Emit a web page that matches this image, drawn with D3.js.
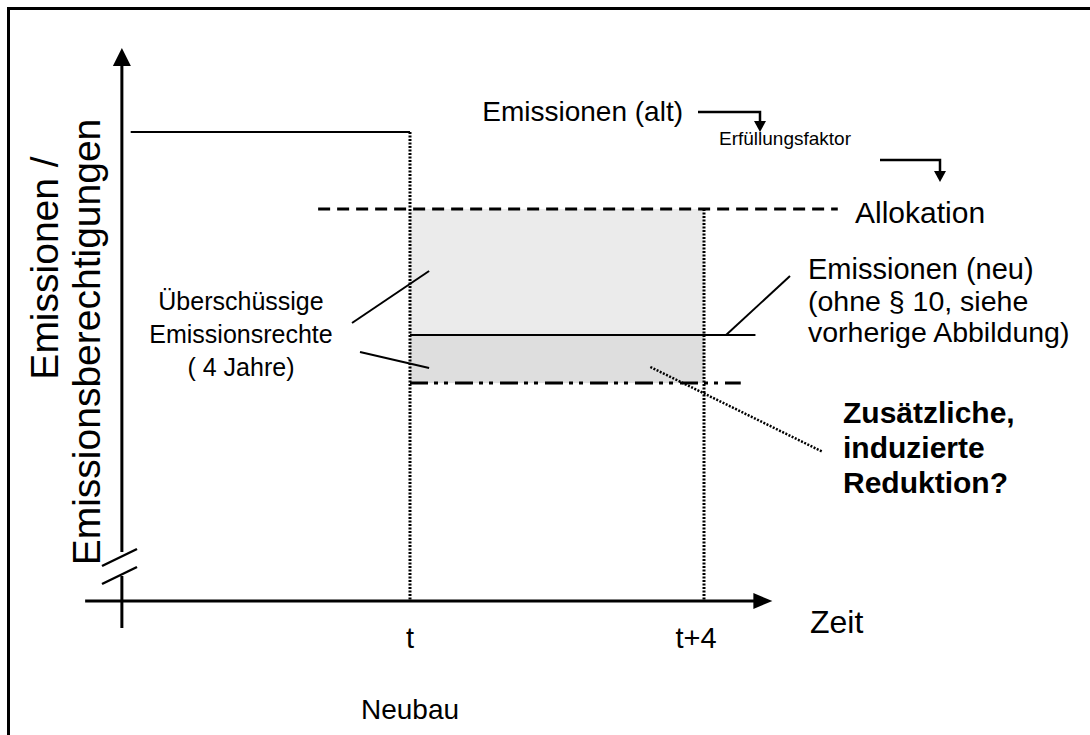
<!DOCTYPE html>
<html>
<head>
<meta charset="utf-8">
<script src="https://cdn.jsdelivr.net/npm/d3@7"></script>
<style>
  body { margin: 0; background: #fff; }
  svg text { font-family: "Liberation Sans", Arial, sans-serif; fill: #000; }
</style>
</head>
<body>
<div id="chart"></div>
<script>
// levels on the (unlabelled) vertical axis, 0 = time axis, 100 = arrow tip
const levelNames = ["Emissionen (alt)", "Allokation", "Emissionen (neu)", "Reduktion"];
const levelValues = [84.8, 70.9, 48.1, 39.4];
// time extent of each level line (years, t = 0)
const levelStart = [-3.8, -1.25, 0, 0];
const levelEnd = [0, 5.82, 4.7, 4.5];

const timeTicks = [0, 4];
const timeLabels = ["t", "t+4"];

const width = 1090;
const height = 735;

const svg = d3.select("#chart")
  .append("svg")
  .attr("width", width)
  .attr("height", height);

const x = d3.scaleLinear().domain([0, 4]).range([410, 704]);
const y = d3.scaleLinear().domain([0, 100]).range([601, 48]);

const axisX0 = -3.92;   // where the vertical axis stands
const level = (name) => levelValues[levelNames.indexOf(name)];

// frame (only top and left visible)
svg.append("path")
  .attr("d", "M8.5,735 V8.5 H1090")
  .attr("fill", "none")
  .attr("stroke", "#000")
  .attr("stroke-width", 3);

// shaded areas
svg.append("rect")
  .attr("x", x(0)).attr("width", x(4) - x(0))
  .attr("y", y(level("Allokation")))
  .attr("height", y(level("Emissionen (neu)")) - y(level("Allokation")))
  .attr("fill", "#ebebeb");
svg.append("rect")
  .attr("x", x(0)).attr("width", x(4) - x(0))
  .attr("y", y(level("Emissionen (neu)")))
  .attr("height", y(level("Reduktion")) - y(level("Emissionen (neu)")))
  .attr("fill", "#dedede");

// vertical dotted lines at t and t+4
const vTop = [level("Emissionen (alt)"), level("Allokation")];
svg.selectAll(".vline")
  .data(timeTicks)
  .join("line")
  .attr("class", "vline")
  .attr("x1", d => x(d)).attr("x2", d => x(d))
  .attr("y1", (d, i) => y(vTop[i])).attr("y2", y(0))
  .attr("stroke", "#000")
  .attr("stroke-width", 3)
  .attr("stroke-dasharray", "2,1.5");

// level lines
const dash = ["", "12,7", "", "18,6,4,6,4,7"];
const lw = [2, 3, 2, 3];
svg.selectAll(".level")
  .data(levelNames)
  .join("line")
  .attr("class", "level")
  .attr("x1", (d, i) => x(levelStart[i]))
  .attr("x2", (d, i) => x(levelEnd[i]))
  .attr("y1", (d, i) => y(levelValues[i]))
  .attr("y2", (d, i) => y(levelValues[i]))
  .attr("stroke", "#000")
  .attr("stroke-width", (d, i) => lw[i])
  .attr("stroke-dasharray", (d, i) => dash[i] || null);

// axes
const ax = x(axisX0);
svg.append("line")
  .attr("x1", ax).attr("x2", ax)
  .attr("y1", 552).attr("y2", 62)
  .attr("stroke", "#000").attr("stroke-width", 3);
svg.append("line")
  .attr("x1", ax).attr("x2", ax)
  .attr("y1", 576).attr("y2", 628)
  .attr("stroke", "#000").attr("stroke-width", 3);
svg.append("path")
  .attr("d", `M${ax},48 L${ax - 9},66 L${ax + 9},66 Z`)
  .attr("fill", "#000");
// axis break
[0, 18].forEach(off => {
  svg.append("line")
    .attr("x1", 102).attr("y1", 584 - off)
    .attr("x2", 137).attr("y2", 567 - off)
    .attr("stroke", "#000").attr("stroke-width", 2.5);
});

svg.append("line")
  .attr("x1", x(-4.42)).attr("x2", x(4.68))
  .attr("y1", y(0)).attr("y2", y(0))
  .attr("stroke", "#000").attr("stroke-width", 3);
svg.append("path")
  .attr("d", `M${x(4.93)},${y(0)} L${x(4.93) - 19},${y(0) - 8} L${x(4.93) - 19},${y(0) + 8} Z`)
  .attr("fill", "#000");

// tick labels
svg.selectAll(".tick-label")
  .data(timeTicks)
  .join("text")
  .attr("class", "tick-label")
  .attr("x", (d, i) => x(d) - (i ? 8 : 0))
  .attr("y", 648)
  .attr("text-anchor", "middle")
  .attr("font-size", 29)
  .text((d, i) => timeLabels[i]);

svg.append("text").attr("x", 810).attr("y", 633)
  .attr("font-size", 32).text("Zeit");
svg.append("text").attr("x", x(0)).attr("y", 719)
  .attr("text-anchor", "middle").attr("font-size", 28).text("Neubau");

// y axis title
svg.append("text")
  .attr("transform", "translate(58,268) rotate(-90)")
  .attr("text-anchor", "middle").attr("font-size", 39)
  .text("Emissionen /");
svg.append("text")
  .attr("transform", "translate(100,342) rotate(-90)")
  .attr("text-anchor", "middle").attr("font-size", 39)
  .text("Emissionsberechtigungen");

// top labels with bent arrows
svg.append("text").attr("x", 683).attr("y", 121)
  .attr("text-anchor", "end").attr("font-size", 28).text("Emissionen (alt)");
svg.append("text").attr("x", 851).attr("y", 145)
  .attr("text-anchor", "end").attr("font-size", 19).text("Erfüllungsfaktor");

function bentArrow(x0, x1, yy, tip) {
  svg.append("path")
    .attr("d", `M${x0},${yy} H${x1} V${tip - 9}`)
    .attr("fill", "none").attr("stroke", "#000").attr("stroke-width", 2.5);
  svg.append("path")
    .attr("d", `M${x1},${tip} L${x1 - 6},${tip - 11} L${x1 + 6},${tip - 11} Z`)
    .attr("fill", "#000");
}
bentArrow(698, 760, 112, 132);
bentArrow(880, 940, 160, 182);

svg.append("text").attr("x", 855).attr("y", 223)
  .attr("font-size", 30).text("Allokation");

// Emissionen (neu) label
svg.append("text").attr("x", 808).attr("y", 279)
  .attr("font-size", 29).text("Emissionen (neu)");
svg.append("text").attr("x", 808).attr("y", 311)
  .attr("font-size", 28.5).text("(ohne § 10, siehe");
svg.append("text").attr("x", 808).attr("y", 342)
  .attr("font-size", 28.5).text("vorherige Abbildung)");
svg.append("line")
  .attr("x1", x(4.3)).attr("y1", y(level("Emissionen (neu)")))
  .attr("x2", 790).attr("y2", 276)
  .attr("stroke", "#000").attr("stroke-width", 2);

// surplus label
const surplus = svg.append("text").attr("text-anchor", "middle").attr("font-size", 25);
["Überschüssige", "Emissionsrechte", "( 4 Jahre)"].forEach((s, i) => {
  surplus.append("tspan").attr("x", 241).attr("y", 310 + i * 33).text(s);
});
svg.append("line")
  .attr("x1", 352).attr("y1", 323)
  .attr("x2", x(0.26)).attr("y2", 271)
  .attr("stroke", "#000").attr("stroke-width", 2);
svg.append("line")
  .attr("x1", 360).attr("y1", 352)
  .attr("x2", x(0.26)).attr("y2", 368)
  .attr("stroke", "#000").attr("stroke-width", 2);

// induced reduction
const red = svg.append("text").attr("font-size", 30).attr("font-weight", "bold");
["Zusätzliche,", "induzierte", "Reduktion?"].forEach((s, i) => {
  red.append("tspan").attr("x", 843).attr("y", 423 + i * 35).text(s);
});
svg.append("line")
  .attr("x1", x(3.27)).attr("y1", 367)
  .attr("x2", 823).attr("y2", 452)
  .attr("stroke", "#000").attr("stroke-width", 2.5)
  .attr("stroke-dasharray", "2,1.5");
</script>
</body>
</html>
